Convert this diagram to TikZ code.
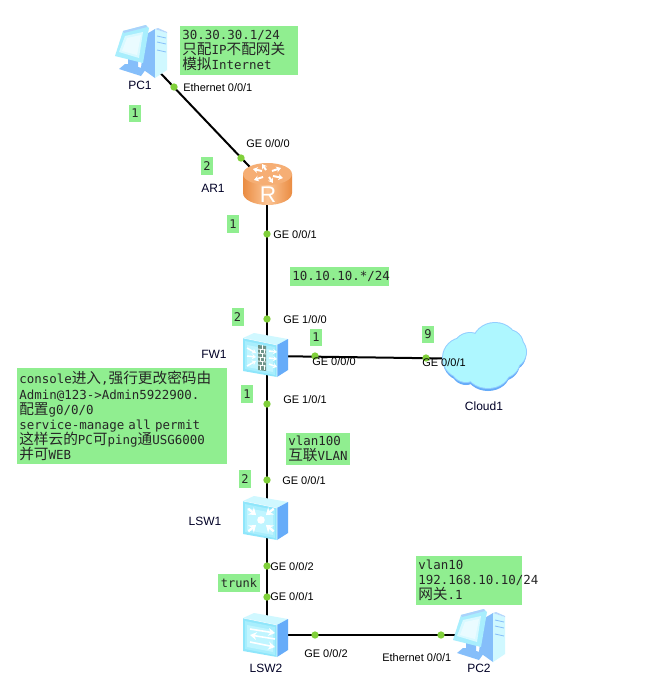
\documentclass[tikz,border=0pt]{standalone}
\usepackage{fontspec}
\usetikzlibrary{arrows.meta}
\setmainfont{Liberation Sans}
\newfontfamily\monof{DejaVu Sans Mono}
\newfontfamily\cjk{Noto Sans CJK SC}
\newcommand\zh[1]{{\cjk\fontsize{11}{11.6}\selectfont #1}}
\definecolor{notegreen}{HTML}{90EE90}
\definecolor{dotgreen}{HTML}{80D03A}
\definecolor{icelight}{HTML}{D0F8FF}
\definecolor{icemid}{HTML}{A8EEFD}
\definecolor{icedeep}{HTML}{8FE6FB}
\definecolor{iceinner}{HTML}{C0F5FF}
\definecolor{iceblue}{HTML}{66ACF9}
\definecolor{sideblue}{HTML}{85BEFA}
\definecolor{rimblue}{HTML}{92CEFF}
\definecolor{cloudbody}{HTML}{AEF7FF}
\definecolor{rdark}{HTML}{EA8C42}
\definecolor{rlight}{HTML}{FCC596}
\definecolor{rtop}{HTML}{F6AE74}
\definecolor{brick}{HTML}{6F9388}
\tikzset{
  x=0.75pt,y=-0.75pt,
  link/.style={draw=black,line width=1.5pt},
  portdot/.style={circle,fill=dotgreen,draw=none,inner sep=0pt,minimum size=5.5pt},
  port/.style={font=\fontsize{8.25}{10}\selectfont,inner sep=0pt,anchor=west,text=black},
  devname/.style={font=\fontsize{9}{11}\selectfont,inner sep=0pt,text=black!85!blue},
  note/.style={fill=notegreen,draw=none,anchor=north west,inner sep=1.5pt,align=left,
     font=\monof\fontsize{9.35}{11.4}\selectfont,text=black!85},
  tag/.style={fill=notegreen,draw=none,anchor=center,inner sep=0pt,minimum width=9pt,minimum height=13pt,
     font=\monof\fontsize{9}{11}\selectfont,text=black!85},
  pics/boxicon/.style={code={
    \fill[icelight] (-23,-17) -- (-12,-22) -- (22,-16) -- (11,-10) -- cycle;
    \fill[iceblue] (11,-10) -- (22,-16) -- (22,15) -- (11,22) -- cycle;
    \fill[icedeep] (-23,-17) -- (11,-10) -- (11,22) -- (-23,16) -- cycle;
    \fill[icemid] (-21,-14) -- (9,-8) -- (9,20) -- (-21,14) -- cycle;
    \fill[iceinner] (-19,-10) -- (7,-5) -- (7,17) -- (-19,12) -- cycle;
    \draw[white,line width=.4pt,opacity=.8] (-23,-17) -- (11,-10) -- (11,22);
  }},
  pics/pcicon/.style={code={
    % tower
    \fill[sideblue] (30,10) -- (40,4) -- (40,53) -- (26,43) -- cycle;
    \fill[icelight] (40,4) -- (52,8) -- (52,45) -- (40,53) -- cycle;
    \fill[sideblue!60!white] (40,4) -- (43,3) -- (52,7) -- (52,8) -- cycle;
    \draw[sideblue,line width=.6pt] (42,11) -- (51,13) (42,17) -- (51,19) (42,25) -- (51,27);
    % stand
    \fill[sideblue] (13,33) -- (23,36) -- (23,42) -- (31,44) -- (26,51) -- (4,44) -- (10,39) -- (13,39) -- cycle;
    % monitor
    \fill[icemid] (8,6) -- (31,0) -- (34,3) -- (28,38) -- (0,31) -- cycle;
    \fill[sideblue!70!white] (8,6) -- (31,0) -- (32,2) -- (9,8) -- cycle;
    \fill[iceinner!60!white] (10,11) -- (28,7) -- (24,33) -- (4,27) -- cycle;
    \fill[white,opacity=.45] (12,13) -- (26,10) -- (22,30) -- (7,26) -- cycle;
  }},
  wedge/.style={white,line width=1.5pt,-{Stealth[length=3.5pt,width=4.5pt]}},
  thinwedge/.style={white,line width=1.1pt,-{Stealth[length=3pt,width=4pt]}}
}
\begin{document}
\begin{tikzpicture}
\useasboundingbox (0,0) rectangle (661,697);
\fill[white] (0,0) rectangle (661,697);
% device anchors
\coordinate (pc1) at (148,60);
\coordinate (ar1) at (267,185);
\coordinate (fw1) at (267,356);
\coordinate (cloud1) at (485,359);
\coordinate (lsw1) at (267,518);
\coordinate (lsw2) at (267,635);
\coordinate (pc2) at (478,635);
% connectors
\draw[link] (pc1) -- (ar1);
\draw[link] (ar1) -- (fw1);
\draw[link] (fw1) -- (cloud1);
\draw[link] (fw1) -- (lsw1);
\draw[link] (lsw1) -- (lsw2);
\draw[link] (lsw2) -- (pc2);
% PC1 and PC2
\pic at (115,25) {pcicon};
\pic at (453,609) {pcicon};
% router
\begin{scope}
  \shade[left color=rdark,right color=rdark,middle color=rlight]
    (243,174) -- (243,193) arc[x radius=24.5,y radius=12,start angle=180,end angle=0] -- (292,174) -- cycle;
  \fill[rlight!60!rdark] (267.5,174) ellipse[x radius=24.5,y radius=11];
  \fill[rtop] (267.5,174) ellipse[x radius=22.5,y radius=9.5];
  \draw[wedge] (262,171) -- (253,169);
  \draw[wedge] (266,170) -- (262,164);
  \draw[wedge] (273,176) -- (283,178);
  \draw[wedge] (269,177) -- (273,183);
  \draw[wedge] (272,171) -- (281,168);
  \draw[wedge] (263,177) -- (254,180);
  \node[font=\fontsize{17}{18}\selectfont,text=white,inner sep=0pt] (rlogo) at (268,195) {R};
\end{scope}
% firewall
\pic at (266,355) {boxicon};
\begin{scope}[shift={(266,355)}]
  \fill[brick] (-8,-10) -- (0,-9) -- (0,16) -- (-8,15) -- cycle;
  \draw[white,line width=.6pt] (-8,-6) -- (0,-5) (-8,-2) -- (0,-1) (-8,2) -- (0,3) (-8,6) -- (0,7) (-8,10) -- (0,11);
  \draw[white,line width=.5pt] (-4,-10) -- (-4,-6) (-6,-6) -- (-6,-2) (-2,-6) -- (-2,-2) (-4,-2) -- (-4,2) (-6,2) -- (-6,6) (-2,2) -- (-2,6) (-4,6) -- (-4,10) (-6,10) -- (-6,15) (-2,10) -- (-2,15);
  \draw[thinwedge] (-19,-7) -- (-10,-2);
  \draw[thinwedge] (-19,1) -- (-10,2);
  \draw[thinwedge] (-19,11) -- (-10,6);
  \draw[thinwedge] (3,-4) -- (11,-3);
  \draw[thinwedge] (3,3) -- (11,4);
  \draw[thinwedge] (3,9) -- (11,12);
\end{scope}
% core switch
\pic at (266,518) {boxicon};
\begin{scope}[shift={(266,518)}]
  \fill[white] (-5,2) circle[radius=3.8];
  \foreach \ang in {45,135,225,315}{
    \draw[white,line width=1.7pt,-{Stealth[length=5pt,width=7pt]}] ({-5+18*cos(\ang)},{2+16*sin(\ang)}) -- ({-5+7*cos(\ang)},{2+7*sin(\ang)});
  }
\end{scope}
% access switch
\pic at (266,635) {boxicon};
\begin{scope}[shift={(266,635)}]
  \draw[white,line width=1.2pt,-{Stealth[length=5pt,width=6pt]}] (-16,-6) -- (9,-2);
  \draw[white,line width=1.2pt,-{Stealth[length=5pt,width=6pt]}] (9,4) -- (-16,0);
  \draw[white,line width=1.2pt,-{Stealth[length=5pt,width=6pt]}] (-16,7) -- (9,12);
\end{scope}
% cloud
\begin{scope}[shift={(485,357)}]
  \foreach \dy/\ex/\col in {3/0/iceblue,0/1/rimblue,0/0/cloudbody}{
    \fill[\col] (-22,1+\dy) circle[radius=20+\ex]
      (-15,-7+\dy) circle[radius=17+\ex]
      (10,-14+\dy) circle[x radius=22+\ex,y radius=20+\ex]
      (23,-12+\dy) circle[radius=15+\ex]
      (25,-5+\dy) circle[radius=16+\ex]
      (17,3+\dy) circle[radius=18+\ex]
      (3,13+\dy) circle[x radius=22+\ex,y radius=18+\ex]
      (-19,10+\dy) circle[radius=15+\ex]
      (0,0+\dy) circle[radius=25];
  }
\end{scope}
% port dots
\node[portdot] (d1) at (174,87) {};
\node[portdot] (d2) at (241,158) {};
\node[portdot] (d3) at (267,234) {};
\node[portdot] (d4) at (267,319) {};
\node[portdot] (d5) at (267,404) {};
\node[portdot] (d6) at (315,356) {};
\node[portdot] (d7) at (426,358) {};
\node[portdot] (d8) at (267,480) {};
\node[portdot] (d9) at (267,566) {};
\node[portdot] (d10) at (267,597) {};
\node[portdot] (d11) at (315,635) {};
\node[portdot] (d12) at (441,635) {};
% port labels
\node[port] (l1) at (183,88) {Ethernet 0/0/1};
\node[port] (l2) at (246,144) {GE 0/0/0};
\node[port] (l3) at (273,235) {GE 0/0/1};
\node[port] (l4) at (283,320) {GE 1/0/0};
\node[port] (l5) at (283,400) {GE 1/0/1};
\node[port] (l6) at (312,362) {GE 0/0/0};
\node[port] (l7) at (422,363) {GE 0/0/1};
\node[port] (l8) at (282,481) {GE 0/0/1};
\node[port] (l9) at (270,567) {GE 0/0/2};
\node[port] (l10) at (270,597) {GE 0/0/1};
\node[port] (l11) at (304,654) {GE 0/0/2};
\node[port] (l12) at (382,658) {Ethernet 0/0/1};
% device names
\node[devname] (n1) at (140,85) {PC1};
\node[devname] (n2) at (213,188) {AR1};
\node[devname] (n3) at (214,354) {FW1};
\node[devname] (n4) at (484,406) {Cloud1};
\node[devname] (n5) at (205,521) {LSW1};
\node[devname] (n6) at (266,668) {LSW2};
\node[devname] (n7) at (479,668) {PC2};
% small tags
\node[tag] (t1) at (135,113.5) {1};
\node[tag] (t2) at (207,166) {2};
\node[tag] (t3) at (233,224) {1};
\node[tag] (t4) at (237.5,317) {2};
\node[tag] (t5) at (247,394) {1};
\node[tag] (t6) at (316,337.5) {1};
\node[tag] (t7) at (428,334.5) {9};
\node[tag] (t8) at (245,479) {2};
\node[tag,minimum width=32pt] (t9) at (239,583) {trunk};
% notes
\node[note,text width=85pt,minimum height=36.5pt] (nt1) at (180,26) {30.30.30.1/24\\\zh{只配}IP\zh{不配网关}\\\zh{模拟}Internet};
\node[note,text width=154pt,minimum height=72pt] (nt2) at (17,368) {console\zh{进入},\zh{强行更改密码由}\\Admin@123->Admin5922900.\\\zh{配置}g0/0/0\\service-manage all permit\\\zh{这样云的}PC\zh{可}ping\zh{通}USG6000\\\zh{并可}WEB};
\node[note,text width=71pt,minimum height=14pt] (nt3) at (290,267) {10.10.10.*/24};
\node[note,text width=45pt,minimum height=24pt] (nt4) at (286,433) {vlan100\\\zh{互联}VLAN};
\node[note,text width=76.5pt,minimum height=36.5pt] (nt5) at (416,556) {vlan10\\192.168.10.10/24\\\zh{网关}.1};
\end{tikzpicture}
\end{document}
